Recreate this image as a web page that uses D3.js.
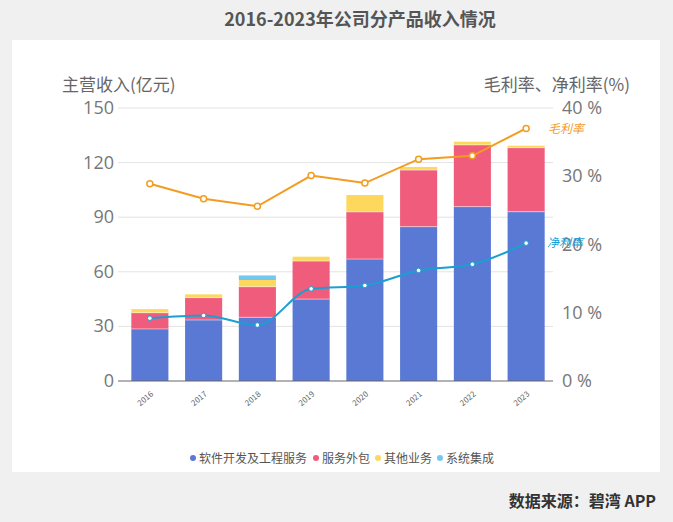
<!DOCTYPE html>
<html>
<head>
<meta charset="utf-8">
<script src="https://cdn.jsdelivr.net/npm/d3@7"></script>
<style>
  body { margin: 0; background: #f0f0f0; }
  svg { display: block; font-family: "Noto Sans CJK SC", "Noto Sans", sans-serif; }
</style>
</head>
<body>
<svg id="chart" width="673" height="522"></svg>
<script>
// data
var years = ["2016", "2017", "2018", "2019", "2020", "2021", "2022", "2023"];
var software = [28.6, 33.5, 35.0, 45.0, 67.0, 84.8, 95.8, 93.0];
var outsourcing = [8.9, 12.3, 16.8, 20.9, 25.9, 31.1, 33.9, 35.2];
var other = [2.0, 1.8, 3.7, 2.4, 9.3, 1.7, 1.8, 1.1];
var integration = [0, 0, 2.5, 0, 0, 0, 0, 0];
var grossMargin = [28.9, 26.7, 25.6, 30.1, 29.0, 32.5, 33.0, 37.0];
var netMargin = [9.2, 9.6, 8.2, 13.5, 14.0, 16.2, 17.1, 20.2];
var seriesNames = ["软件开发及工程服务", "服务外包", "其他业务", "系统集成"];
var leftTicks = [0, 30, 60, 90, 120, 150];
var rightTicks = [0, 10, 20, 30, 40];

var colors = ["#5a79d4", "#f05c7b", "#fdd85d", "#73c8ef"];
var orange = "#f39c1f", cyan = "#1a9fd3";

var svg = d3.select("#chart");

// white panel
svg.append("rect")
  .attr("x", 12).attr("y", 40)
  .attr("width", 648).attr("height", 432)
  .attr("fill", "#fff");

svg.append("text")
  .attr("x", 360).attr("y", 26)
  .attr("text-anchor", "middle")
  .style("font-size", 18).style("font-weight", "bold")
  .attr("fill", "#555")
  .text("2016-2023年公司分产品收入情况");

var plotL = 123, plotR = 553, plotT = 108, plotB = 381;

var x = d3.scaleBand().domain(years).range([plotL, plotR]).paddingInner(0.31).paddingOuter(0.155);
var y = d3.scaleLinear().domain([0, 150]).range([plotB, plotT]);
var y2 = d3.scaleLinear().domain([0, 40]).range([plotB, plotT]);

// grid
svg.append("g")
  .selectAll("line").data(leftTicks.slice(1)).enter().append("line")
  .attr("x1", plotL - 5).attr("x2", plotR)
  .attr("y1", function(d) { return y(d); })
  .attr("y2", function(d) { return y(d); })
  .attr("stroke", "#e3e3e3");

svg.append("g")
  .selectAll("text").data(leftTicks).enter().append("text")
  .attr("x", 114)
  .attr("y", function(d) { return y(d) + 6; })
  .attr("text-anchor", "end")
  .style("font-size", 18).style("font-family", "'Open Sans', sans-serif")
  .attr("fill", "#777")
  .text(function(d) { return d; });

svg.append("g")
  .selectAll("text").data(rightTicks).enter().append("text")
  .attr("x", 562)
  .attr("y", function(d) { return y2(d) + 6; })
  .style("font-size", 18).style("font-family", "'Open Sans', sans-serif")
  .attr("fill", "#777")
  .text(function(d) { return d + " %"; });

svg.append("text")
  .attr("x", 62).attr("y", 91)
  .style("font-size", 17).attr("fill", "#666")
  .text("主营收入(亿元)");

svg.append("text")
  .attr("x", 630).attr("y", 91)
  .attr("text-anchor", "end")
  .style("font-size", 17).attr("fill", "#666")
  .text("毛利率、净利率(%)");

// stacked bars
var rows = years.map(function(yr, i) {
  return { year: yr, s0: software[i], s1: outsourcing[i], s2: other[i], s3: integration[i] };
});
var stack = d3.stack().keys(["s0", "s1", "s2", "s3"])(rows);

svg.append("g")
  .selectAll("g").data(stack).enter().append("g")
  .attr("fill", function(d, i) { return colors[i]; })
  .selectAll("rect").data(function(d) { return d; }).enter().append("rect")
  .attr("x", function(d) { return x(d.data.year); })
  .attr("width", x.bandwidth())
  .attr("y", function(d) { return y(d[1]); })
  .attr("height", function(d) { return Math.max(0, y(d[0]) - y(d[1])); });

// thin separators between segments
svg.append("g")
  .selectAll("g").data(stack.slice(0, 2)).enter().append("g")
  .selectAll("line").data(function(d) { return d; }).enter().append("line")
  .attr("x1", function(d) { return x(d.data.year); })
  .attr("x2", function(d) { return x(d.data.year) + x.bandwidth(); })
  .attr("y1", function(d) { return y(d[1]); })
  .attr("y2", function(d) { return y(d[1]); })
  .attr("stroke", "#fff").attr("stroke-opacity", 0.6).attr("stroke-width", 0.8);

// x axis
svg.append("line")
  .attr("x1", plotL - 5).attr("x2", plotR)
  .attr("y1", plotB).attr("y2", plotB)
  .attr("stroke", "#666");

svg.append("g")
  .selectAll("text").data(years).enter().append("text")
  .attr("transform", function(d) {
    return "translate(" + (x(d) + x.bandwidth() / 2 + 4) + "," + (plotB + 14) + ") rotate(-40)";
  })
  .attr("text-anchor", "end")
  .style("font-size", 8).attr("fill", "#666")
  .text(function(d) { return d; });

// lines
var cx = function(d, i) { return x(years[i]) + x.bandwidth() / 2; };

svg.append("path")
  .datum(grossMargin)
  .attr("fill", "none").attr("stroke", orange).attr("stroke-width", 2)
  .attr("d", d3.line().x(cx).y(function(d) { return y2(d); }));

svg.append("path")
  .datum(netMargin)
  .attr("fill", "none").attr("stroke", cyan).attr("stroke-width", 2)
  .attr("d", d3.line().curve(d3.curveMonotoneX).x(cx).y(function(d) { return y2(d); }));

svg.append("g")
  .selectAll("circle").data(grossMargin).enter().append("circle")
  .attr("cx", cx).attr("cy", function(d) { return y2(d); })
  .attr("r", 3).attr("fill", "#fff").attr("stroke", orange).attr("stroke-width", 1.5);

svg.append("g")
  .selectAll("circle").data(netMargin).enter().append("circle")
  .attr("cx", cx).attr("cy", function(d) { return y2(d); })
  .attr("r", 2.3).attr("fill", "#fff").attr("stroke", cyan).attr("stroke-width", 1);

svg.append("text")
  .attr("x", 548).attr("y", 133)
  .style("font-size", 12).style("font-style", "italic")
  .attr("fill", orange).text("毛利率");

svg.append("text")
  .attr("x", 547).attr("y", 247)
  .style("font-size", 12).style("font-style", "italic")
  .attr("fill", cyan).text("净利率");

// legend
var legend = svg.append("g").attr("transform", "translate(190,458)");
var offs = [0, 123, 185, 247];
seriesNames.forEach(function(name, i) {
  var g = legend.append("g").attr("transform", "translate(" + offs[i] + ",0)");
  g.append("circle").attr("cx", 3).attr("cy", 0).attr("r", 3).attr("fill", colors[i]);
  g.append("text").attr("x", 9).attr("y", 4.5)
    .style("font-size", 12).attr("fill", "#555").text(name);
});

svg.append("text")
  .attr("x", 656).attr("y", 507)
  .attr("text-anchor", "end")
  .style("font-size", 16).style("font-weight", "bold")
  .attr("fill", "#333")
  .text("数据来源：碧湾 APP");
</script>
</body>
</html>
